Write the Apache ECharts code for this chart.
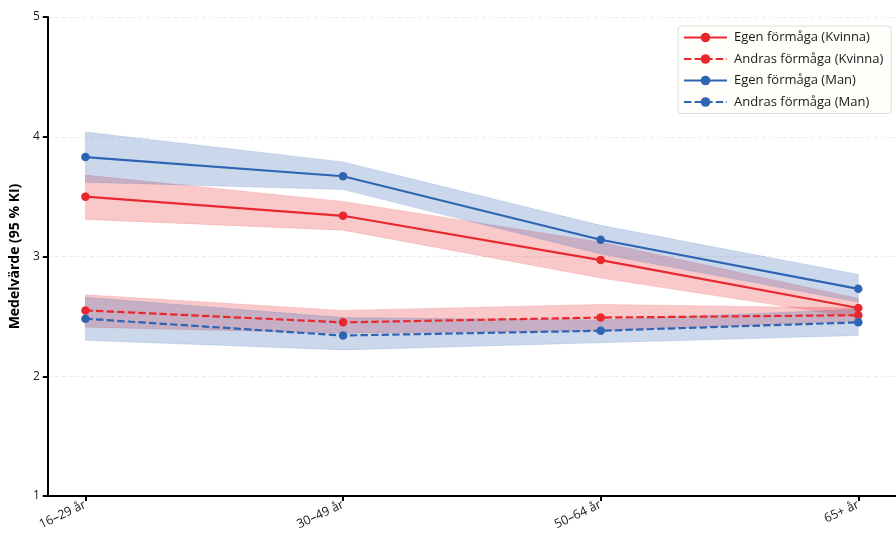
<!DOCTYPE html>
<html>
<head>
<meta charset="utf-8">
<script src="https://cdn.jsdelivr.net/npm/echarts@6/dist/echarts.min.js"></script>
<style>
  html, body { margin: 0; padding: 0; background: #ffffff; }
  #chart { width: 896px; height: 533px; }
</style>
</head>
<body>
<div id="chart"></div>
<script>
// Age groups on the x axis
const categories = ['16–29 år', '30–49 år', '50–64 år', '65+ år'];
const yTicks = [1, 2, 3, 4, 5];

// Mean values with 95 % confidence limits
const egenKvinna   = [3.50, 3.34, 2.97, 2.57];
const egenKvinnaLo = [3.31, 3.22, 2.82, 2.49];
const egenKvinnaHi = [3.68, 3.46, 3.12, 2.65];

const andrasKvinna   = [2.55, 2.45, 2.49, 2.51];
const andrasKvinnaLo = [2.41, 2.36, 2.38, 2.46];
const andrasKvinnaHi = [2.68, 2.55, 2.60, 2.57];

const egenMan   = [3.83, 3.67, 3.14, 2.73];
const egenManLo = [3.62, 3.56, 3.02, 2.62];
const egenManHi = [4.04, 3.79, 3.26, 2.85];

const andrasMan   = [2.48, 2.34, 2.38, 2.45];
const andrasManLo = [2.30, 2.22, 2.28, 2.34];
const andrasManHi = [2.66, 2.49, 2.47, 2.56];

const RED = '#e8282d';
const BLUE = '#2e64b4';
const FONT = 'Open Sans';

function pairs(values) {
  return values.map((v, i) => [i, v]);
}

// Confidence band drawn as one polygon through the axis scales
function band(name, lo, hi, color) {
  return {
    type: 'custom',
    name: name,
    silent: true,
    z: 1,
    data: [[0, lo[0]]],
    renderItem: function (params, api) {
      const pts = [];
      for (let i = 0; i < hi.length; i++) pts.push(api.coord([i, hi[i]]));
      for (let i = lo.length - 1; i >= 0; i--) pts.push(api.coord([i, lo[i]]));
      return {
        type: 'polygon',
        shape: { points: pts },
        style: {
          fill: color,
          opacity: 0.25,
          stroke: color,
          lineWidth: 0.6
        }
      };
    }
  };
}

function line(name, values, color, dashed) {
  return {
    type: 'line',
    name: name,
    data: pairs(values),
    z: 3,
    symbol: 'circle',
    symbolSize: 8.5,
    showSymbol: true,
    color: color,
    itemStyle: { color: color },
    lineStyle: {
      color: color,
      width: 2.2,
      type: dashed ? [7.4, 3.2] : 'solid'
    },
    emphasis: { disabled: true }
  };
}

const chart = echarts.init(document.getElementById('chart'), null, { renderer: 'canvas' });

chart.setOption({
  animation: false,
  backgroundColor: '#ffffff',
  grid: { left: 45, top: 17, width: 855, height: 479, containLabel: false },
  legend: {
    orient: 'vertical',
    left: 678,
    top: 26,
    data: ['Egen förmåga (Kvinna)', 'Andras förmåga (Kvinna)', 'Egen förmåga (Man)', 'Andras förmåga (Man)'],
    itemWidth: 43,
    itemHeight: 12,
    itemGap: 8.5,
    padding: [5, 8, 5, 5],
    backgroundColor: '#fffefb',
    borderColor: '#dedede',
    borderWidth: 1,
    borderRadius: 3,
    textStyle: { fontFamily: FONT, fontSize: 13, color: '#1a1a1a', padding: [0, 0, 0, 2] }
  },
  xAxis: {
    type: 'value',
    min: -0.1463,
    max: 3.1463,
    axisLine: { show: true, onZero: false, lineStyle: { color: '#000000', width: 2 } },
    axisTick: { show: true, customValues: [0, 1, 2, 3], length: 5, lineStyle: { color: '#000000', width: 2 } },
    splitLine: { show: false },
    axisLabel: {
      customValues: [0, 1, 2, 3],
      formatter: function (v) { return categories[Math.round(v)]; },
      rotate: 25,
      margin: 8,
      fontFamily: FONT,
      fontSize: 12.5,
      color: '#1a1a1a'
    }
  },
  yAxis: {
    type: 'value',
    min: yTicks[0],
    max: yTicks[yTicks.length - 1],
    interval: 1,
    name: 'Medelvärde (95 % KI)',
    nameLocation: 'middle',
    nameGap: 22,
    nameTextStyle: { fontFamily: FONT, fontSize: 14, fontWeight: 'bold', color: '#000000' },
    axisLine: { show: true, onZero: false, lineStyle: { color: '#000000', width: 2 } },
    axisTick: { show: true, length: 5, lineStyle: { color: '#000000', width: 2 } },
    axisLabel: { fontFamily: FONT, fontSize: 12, color: '#1a1a1a', margin: 8 },
    splitLine: { show: true, lineStyle: { color: '#ececea', type: [4, 3], width: 1 } }
  },
  series: [
    band('Egen förmåga (Kvinna) KI', egenKvinnaLo, egenKvinnaHi, RED),
    band('Andras förmåga (Kvinna) KI', andrasKvinnaLo, andrasKvinnaHi, RED),
    band('Egen förmåga (Man) KI', egenManLo, egenManHi, BLUE),
    band('Andras förmåga (Man) KI', andrasManLo, andrasManHi, BLUE),
    line('Egen förmåga (Kvinna)', egenKvinna, RED, false),
    line('Andras förmåga (Kvinna)', andrasKvinna, RED, true),
    line('Egen förmåga (Man)', egenMan, BLUE, false),
    line('Andras förmåga (Man)', andrasMan, BLUE, true)
  ]
});
</script>
</body>
</html>
